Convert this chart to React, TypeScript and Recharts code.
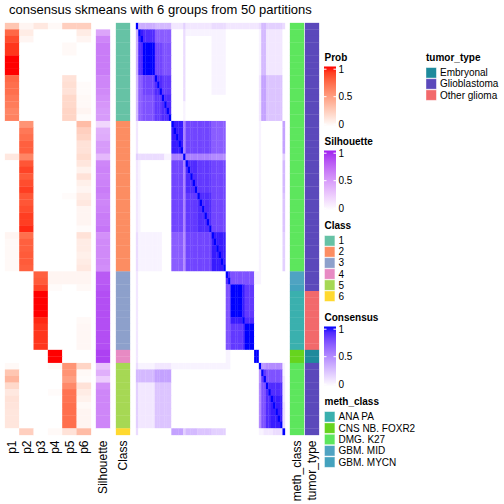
import React from "react";
import { ScatterChart, Scatter, XAxis, YAxis } from "recharts";

const title = "consensus skmeans with 6 groups from 50 partitions";
const probNames = ["p1", "p2", "p3", "p4", "p5", "p6"];

// per-sample values (63 samples, in display order)
const p1 = [0.30,0.75,0.85,0.92,0.92,1,1,1,0.75,0.72,0.72,0.68,0.66,0.62,0.64,
  0,0,0,0,0,0.12,0,0,0,0,0,0,0,0,0,0,0,0.05,0.03,0.03,0.03,0.03,0.03,
  0,0,0,0,0,0,0,0,0,0,0,0, 0,0,
  0.03,0.30,0.38,0.20,0.12,0.15,0.14,0.13,0.13,0.13, 0];
const p2 = [0.05,0.10,0.05,0,0,0,0,0,0,0,0,0,0,0,0,
  0.55,0.68,0.72,0.78,0.78,0.62,0.82,0.88,0.80,0.85,0.90,0.82,0.82,0.85,0.90,0.90,0.95,0.72,0.78,0.78,0.80,0.80,0.78,
  0,0,0,0,0,0,0,0,0,0,0,0, 0,0,
  0,0,0,0,0,0,0,0,0,0, 0.25];
const p3 = [0.12,0,0,0,0,0,0,0,0,0,0,0,0,0,0,
  0,0,0,0,0,0,0,0,0,0,0,0,0,0,0,0,0,0,0,0,0,0,0,
  0.78,0.80,0.88,1,1,1,1,0.95,0.92,0.92,0.92,0.92, 0,0,
  0,0,0,0,0,0,0,0,0,0, 0];
const p4 = [0.03,0,0,0,0,0,0,0,0,0,0,0,0,0,0,
  0,0,0,0,0,0,0,0,0,0,0,0,0,0,0,0,0,0,0,0,0,0,0,
  0.05,0.05,0.02,0,0,0,0,0,0,0,0,0, 1,1,
  0.03,0,0,0,0.02,0,0,0,0,0, 0.03];
const p5 = [0.25,0,0,0.03,0.03,0,0,0,0.15,0.17,0.15,0.20,0.20,0.22,0.22,
  0,0,0,0,0,0,0,0,0,0,0,0.02,0,0,0,0,0,0,0,0,0,0,0,
  0.05,0.05,0,0,0,0,0,0,0,0,0,0, 0,0,
  0.55,0.55,0.50,0.60,0.70,0.70,0.72,0.72,0.72,0.72, 0.15];
const p6 = [0.25,0.10,0.05,0,0,0,0,0,0,0.02,0.02,0.03,0.03,0.05,0.02,
  0.35,0.25,0.22,0.15,0.15,0.18,0.13,0.07,0.15,0.08,0.05,0.10,0.12,0.05,0.05,0.05,0.02,0.15,0.10,0.10,0.08,0.10,0.12,
  0.05,0.05,0.03,0,0,0,0,0.03,0.04,0.04,0.04,0.04, 0,0,
  0.22,0.03,0.02,0.15,0.10,0.07,0.03,0.05,0.05,0.05, 0.35];
const silhouette = [0,0.45,0.60,0.65,0.65,0.65,0.65,0.65,0.60,0.60,0.58,0.55,0.52,0.50,0.50,
  0.20,0.40,0.42,0.50,0.50,0.35,0.60,0.62,0.60,0.62,0.65,0.62,0.60,0.62,0.65,0.65,0.68,0.55,0.58,0.58,0.58,0.58,0.56,
  0.80,0.80,0.82,0.85,0.85,0.85,0.85,0.85,0.85,0.85,0.85,0.85, 0.90,0.90,
  0.30,0.40,0.25,0.55,0.60,0.60,0.60,0.60,0.60,0.60, 0];
const sampleClass = [1,1,1,1,1,1,1,1,1,1,1,1,1,1,1,
  2,2,2,2,2,2,2,2,2,2,2,2,2,2,2,2,2,2,2,2,2,2,2,
  3,3,3,3,3,3,3,3,3,3,3,3, 4,4,
  5,5,5,5,5,5,5,5,5,5, 6];
const methClass = ["DMG. K27","DMG. K27","DMG. K27","DMG. K27","DMG. K27","DMG. K27","DMG. K27","DMG. K27","DMG. K27","DMG. K27","DMG. K27","DMG. K27","DMG. K27","DMG. K27","DMG. K27",
  "DMG. K27","DMG. K27","DMG. K27","DMG. K27","DMG. K27","DMG. K27","DMG. K27","DMG. K27","DMG. K27","DMG. K27","DMG. K27","DMG. K27","DMG. K27","DMG. K27","DMG. K27","DMG. K27","DMG. K27","DMG. K27","DMG. K27","DMG. K27","DMG. K27","DMG. K27","DMG. K27",
  "GBM. MID","GBM. MID","GBM. MYCN","ANA PA","ANA PA","ANA PA","ANA PA","ANA PA","ANA PA","ANA PA","ANA PA","ANA PA",
  "CNS NB. FOXR2","CNS NB. FOXR2",
  "DMG. K27","DMG. K27","DMG. K27","DMG. K27","DMG. K27","DMG. K27","DMG. K27","DMG. K27","DMG. K27","DMG. K27","DMG. K27"];
const tumorType = ["Glioblastoma","Glioblastoma","Glioblastoma","Glioblastoma","Glioblastoma","Glioblastoma","Glioblastoma","Glioblastoma","Glioblastoma","Glioblastoma","Glioblastoma","Glioblastoma","Glioblastoma","Glioblastoma","Glioblastoma",
  "Glioblastoma","Glioblastoma","Glioblastoma","Glioblastoma","Glioblastoma","Glioblastoma","Glioblastoma","Glioblastoma","Glioblastoma","Glioblastoma","Glioblastoma","Glioblastoma","Glioblastoma","Glioblastoma","Glioblastoma","Glioblastoma","Glioblastoma","Glioblastoma","Glioblastoma","Glioblastoma","Glioblastoma","Glioblastoma","Glioblastoma",
  "Glioblastoma","Glioblastoma","Glioblastoma","Other glioma","Other glioma","Other glioma","Other glioma","Other glioma","Other glioma","Other glioma","Other glioma","Other glioma",
  "Embryonal","Embryonal",
  "Glioblastoma","Glioblastoma","Glioblastoma","Glioblastoma","Glioblastoma","Glioblastoma","Glioblastoma","Glioblastoma","Glioblastoma","Glioblastoma","Glioblastoma"];

const classLevels = ["1", "2", "3", "4", "5", "6"];
const classColors = ["#66C2A5", "#FC8D62", "#8DA0CB", "#E78AC3", "#A6D854", "#FFD92F"];
const methLevels = ["ANA PA", "CNS NB. FOXR2", "DMG. K27", "GBM. MID", "GBM. MYCN"];
const methColors = ["#3AB0AE", "#66D41E", "#5DE65D", "#4FA3C2", "#44A2BE"];
const tumorLevels = ["Embryonal", "Glioblastoma", "Other glioma"];
const tumorColors = ["#1E8A9C", "#5B49BB", "#F2696B"];
const legendBreaks = ["1", "0.5", "0"];

// consensus matrix, lower triangle; level chars 0..k = 0..1 in steps of 0.05
const consensusLower = [
  "k",
  "7k",
  "7jk",
  "7iik",
  "7iikk",
  "7iikkk",
  "7iikkkk",
  "7iikkkkk",
  "6eegggggk",
  "6eegggggik",
  "6eegggggiik",
  "6eefffffhhhk",
  "6eefffffhhhik",
  "6eefffffhhhiik",
  "6eefffffhhhiiik",
  "20000 00000 00000|k",
  "20000 00000 00000|jk",
  "20000 00000 00000|jjk",
  "20000 00000 00000|jjjk",
  "20000 00000 00000|jjjjk",
  "43333 33333 33111|bbbbbk",
  "21000 00000 00000|gggggbk",
  "21000 00000 00000|gggggbik",
  "21000 00000 00000|gggggbiik",
  "21000 00000 00000|gggggbiiik",
  "21000 00000 00000|gggggbiiiik",
  "21000 00000 00000|gggggbhhhhhk",
  "21000 00000 00000|gggggbhhhhhik",
  "21000 00000 00000|gggggbhhhhhiik",
  "21000 00000 00000|gggggbhhhhhiiik",
  "21000 00000 00000|gggggbhhhhhiiiik",
  "21000 00000 00000|gggggbhhhhhiiiiik",
  "31111 11111 10000|eeeeea ggggggggggg k",
  "31111 11111 10000|eeeeea ggggggggggg jk",
  "31111 11111 10000|eeeeea ggggggggggg jjk",
  "31111 11111 10000|eeeeea ggggggggggg jjjk",
  "31111 11111 10000|eeeeea ggggggggggg jjjjk",
  "31111 11111 10000|eeeeea ggggggggggg jjjjjk",
  "20000 00000 00000|00000 00000 00000 00000 000|k",
  "20000 00000 00000|00000 00000 00000 00000 000|ik",
  "20000 00000 00000|00000 00000 00000 00000 000|ffk",
  "20000 00000 00000|00000 00000 00000 00000 000|ffkk",
  "20000 00000 00000|00000 00000 00000 00000 000|ffkkk",
  "20000 00000 00000|00000 00000 00000 00000 000|ffkkkk",
  "20000 00000 00000|00000 00000 00000 00000 000|ffkkkkk",
  "20000 00000 00000|00000 00000 00000 00000 000|ffjjjjjk",
  "20000 00000 00000|00000 00000 00000 00000 000|ffhhhhhik",
  "20000 00000 00000|00000 00000 00000 00000 000|ffhhhhhikk",
  "20000 00000 00000|00000 00000 00000 00000 000|ffhhhhhikkk",
  "20000 00000 00000|00000 00000 00000 00000 000|ffhhhhhikkkk",
  "20000 00000 00000|00000 00000 00000 00000 000|11000 00000 00|k",
  "20000 00000 00000|00000 00000 00000 00000 000|11000 00000 00|kk",
  "31111 11122 22222|11111 11111 11111 11111 111|11000 00000 00|00|k",
  "66666 66688 88888|00000 00000 00000 00000 000|00000 00000 00|00|9k",
  "66666 66688 88888|00000 00000 00000 00000 000|00000 00000 00|00|9hk",
  "42222 22255 55555|00000 00000 00000 00000 000|00000 00000 00|00|affk",
  "42222 22255 55555|00000 00000 00000 00000 000|00000 00000 00|00|affik",
  "42222 22255 55555|00000 00000 00000 00000 000|00000 00000 00|00|affiik",
  "42222 22255 55555|00000 00000 00000 00000 000|00000 00000 00|00|affiijk",
  "42222 22255 55555|00000 00000 00000 00000 000|00000 00000 00|00|affiijjk",
  "42222 22255 55555|00000 00000 00000 00000 000|00000 00000 00|00|affiijjjk",
  "42222 22255 55555|00000 00000 00000 00000 000|00000 00000 00|00|affiijjjjk",
  "30000 00000 00000|88888 4 66666 555555 444444|00000 00000 00|00|11222 23333|k",
];

// ---------- colour helpers (LAB interpolation like circlize::colorRamp2) ----------
const hexToRgb = (h: string) => [1, 3, 5].map((k) => parseInt(h.slice(k, k + 2), 16));
const toLin = (c: number) => { c /= 255; return c <= 0.04045 ? c / 12.92 : Math.pow((c + 0.055) / 1.055, 2.4); };
const fromLin = (c: number) => {
  const v = c <= 0.0031308 ? 12.92 * c : 1.055 * Math.pow(Math.max(c, 0), 1 / 2.4) - 0.055;
  return Math.round(Math.max(0, Math.min(1, v)) * 255);
};
const rgbToLab = (rgb: number[]) => {
  const [R, G, B] = rgb.map(toLin);
  const X = (0.4124564 * R + 0.3575761 * G + 0.1804375 * B) / 0.95047;
  const Y = 0.2126729 * R + 0.7151522 * G + 0.072175 * B;
  const Z = (0.0193339 * R + 0.119192 * G + 0.9503041 * B) / 1.08883;
  const f = (t: number) => (t > 0.008856 ? Math.cbrt(t) : 7.787 * t + 16 / 116);
  const fx = f(X), fy = f(Y), fz = f(Z);
  return [116 * fy - 16, 500 * (fx - fy), 200 * (fy - fz)];
};
const labToRgb = (lab: number[]) => {
  const [L, a, b] = lab;
  const fy = (L + 16) / 116, fx = fy + a / 500, fz = fy - b / 200;
  const finv = (t: number) => (t * t * t > 0.008856 ? t * t * t : (t - 16 / 116) / 7.787);
  const X = finv(fx) * 0.95047, Y = finv(fy), Z = finv(fz) * 1.08883;
  const R = 3.2404542 * X - 1.5371385 * Y - 0.4985314 * Z;
  const G = -0.969266 * X + 1.8760108 * Y + 0.041556 * Z;
  const B = 0.0556434 * X - 0.2040259 * Y + 1.0572252 * Z;
  return [fromLin(R), fromLin(G), fromLin(B)];
};
const makeRamp = (hi: string) => {
  const a = rgbToLab([255, 255, 255]);
  const b = rgbToLab(hexToRgb(hi));
  return (t: number) => {
    const tt = Math.max(0, Math.min(1, t));
    const [r, g, bl] = labToRgb([0, 1, 2].map((k) => a[k] + (b[k] - a[k]) * tt));
    return `rgb(${r},${g},${bl})`;
  };
};
const probRamp = makeRamp("#FF0000");
const silRamp = makeRamp("#A020F0");
const consRamp = makeRamp("#0000FF");

// ---------- build tables ----------
const LEVELS = "0123456789abcdefghijk";
const lower = consensusLower.map((s) => s.replace(/[\s|]/g, "").split("").map((ch) => LEVELS.indexOf(ch) / 20));
const consensus = lower.map((_, i) => lower.map((__, j) => (j <= i ? lower[i][j] ?? 0 : lower[j][i] ?? 0)));

const probs = [p1, p2, p3, p4, p5, p6];
const probColors = p1.map((_, i) => probs.map((p) => probRamp(p[i])));
const silColors = silhouette.map((v) => [silRamp(v)]);
const classCellColors = sampleClass.map((c) => [classColors[c - 1]]);
const consColors = consensus.map((row) => row.map((v) => consRamp(v)));
const methCellColors = methClass.map((m) => [methColors[methLevels.indexOf(m)]]);
const tumorCellColors = tumorType.map((t) => [tumorColors[tumorLevels.indexOf(t)]]);

// ---------- layout ----------
const FONT = "'Liberation Sans', Arial, Helvetica, sans-serif";
const TOP = 22.7;
const HM_H = 412;
const LABEL_H = 75;

type BlockProps = { left: number; width: number; colors: string[][]; labels?: string[] };

function HeatBlock({ left, width, colors, labels }: BlockProps) {
  const nRows = colors.length;
  const nCols = colors[0].length;
  const cw = width / nCols;
  const ch = HM_H / nRows;
  const data: { x: number; y: number; fill: string }[] = [];
  colors.forEach((row, i) => row.forEach((fill, j) => data.push({ x: j + 0.5, y: i + 0.5, fill })));
  const axisH = labels ? LABEL_H : 0;
  const Tick = (props: any) => {
    const { x, y, payload } = props;
    const ty = y + 5.5;
    const label = labels ? labels[Math.floor(payload.value)] : "";
    return (
      <text x={x} y={ty} transform={`rotate(-90 ${x} ${ty})`} textAnchor="end" dominantBaseline="central"
        fontSize={12} fontFamily={FONT} fill="#000">{label}</text>
    );
  };
  const Cellshape = (props: any) => {
    const fill = (props.payload && props.payload.fill) || props.fill;
    return <rect x={props.cx - cw / 2 - 0.15} y={props.cy - ch / 2 - 0.15} width={cw + 0.3} height={ch + 0.3} fill={fill} stroke="none" />;
  };
  return (
    <div style={{ position: "absolute", left, top: TOP }}>
      <ScatterChart width={width} height={HM_H + axisH} margin={{ top: 0, right: 0, bottom: 0, left: 0 }}>
        <XAxis type="number" dataKey="x" domain={[0, nCols]} hide={!labels} height={axisH}
          ticks={labels ? labels.map((_, k) => k + 0.5) : undefined} interval={0}
          tick={labels ? <Tick /> : false} axisLine={false} tickLine={false} tickSize={0} tickMargin={0} />
        <YAxis type="number" dataKey="y" domain={[0, nRows]} reversed hide width={0} />
        <Scatter data={data} isAnimationActive={false} shape={<Cellshape />} />
      </ScatterChart>
    </div>
  );
}

function GradientLegend({ id, name, top, ramp }: { id: string; name: string; top: number; ramp: (t: number) => string }) {
  const barTop = top + 6;
  const tickYs = [barTop + 2.7, barTop + 30.2, barTop + 57.7];
  const stops = [0, 0.1, 0.2, 0.3, 0.4, 0.5, 0.6, 0.7, 0.8, 0.9, 1];
  return (
    <g>
      <text x={324.5} y={top} fontSize={10} fontWeight="bold" fontFamily={FONT}>{name}</text>
      <defs>
        <linearGradient id={id} x1="0" y1="1" x2="0" y2="0">
          {stops.map((s) => <stop key={s} offset={s} stopColor={ramp(s)} />)}
        </linearGradient>
      </defs>
      <rect x={324} y={barTop} width={12} height={60} fill={`url(#${id})`} />
      {tickYs.map((ty, k) => (
        <g key={k}>
          <line x1={324} x2={326.5} y1={ty} y2={ty} stroke="#fff" strokeWidth={1} />
          <line x1={333.5} x2={336} y1={ty} y2={ty} stroke="#fff" strokeWidth={1} />
          <text x={338.5} y={ty} dominantBaseline="central" fontSize={10} fontFamily={FONT}>{legendBreaks[k]}</text>
        </g>
      ))}
    </g>
  );
}

function DiscreteLegend({ name, x, top, levels, colors, step }: { name: string; x: number; top: number; levels: string[]; colors: string[]; step: number }) {
  const first = top + 12.3;
  return (
    <g>
      <text x={x + 0.5} y={top} fontSize={10} fontWeight="bold" fontFamily={FONT}>{name}</text>
      {levels.map((lv, k) => {
        const cy = first + k * step;
        return (
          <g key={lv}>
            <rect x={x + 0.5} y={cy - 5.2} width={10.4} height={10.4} fill={colors[k]} stroke="#ffffff" strokeOpacity={0.5} strokeWidth={0.8} />
            <text x={x + 14.5} y={cy} dominantBaseline="central" fontSize={10} fontFamily={FONT}>{lv}</text>
          </g>
        );
      })}
    </g>
  );
}

export default function App() {
  return (
    <div style={{ position: "absolute", left: 0, top: 0, width: 504, height: 504, background: "#fff", overflow: "hidden" }}>
      <style>{`.recharts-surface{overflow:visible}`}</style>
      <HeatBlock left={5} width={86} colors={probColors} labels={probNames} />
      <HeatBlock left={96} width={14} colors={silColors} labels={["Silhouette"]} />
      <HeatBlock left={116} width={14} colors={classCellColors} labels={["Class"]} />
      <HeatBlock left={136} width={149} colors={consColors} />
      <HeatBlock left={290} width={14} colors={methCellColors} labels={["meth_class"]} />
      <HeatBlock left={305} width={14} colors={tumorCellColors} labels={["tumor_type"]} />
      <svg width={504} height={504} style={{ position: "absolute", left: 0, top: 0, pointerEvents: "none" }}>
        <text x={9} y={14.3} fontSize={13} fontFamily={FONT} fill="#000">{title}</text>
        <GradientLegend id="gProb" name="Prob" top={60.5} ramp={probRamp} />
        <GradientLegend id="gSil" name="Silhouette" top={144.5} ramp={silRamp} />
        <DiscreteLegend name="Class" x={324} top={228.5} levels={classLevels} colors={classColors} step={11.08} />
        <GradientLegend id="gCons" name="Consensus" top={320.5} ramp={consRamp} />
        <DiscreteLegend name="meth_class" x={324} top={404.5} levels={methLevels} colors={methColors} step={11.33} />
        <DiscreteLegend name="tumor_type" x={425.5} top={60.5} levels={tumorLevels} colors={tumorColors} step={11.15} />
      </svg>
    </div>
  );
}
